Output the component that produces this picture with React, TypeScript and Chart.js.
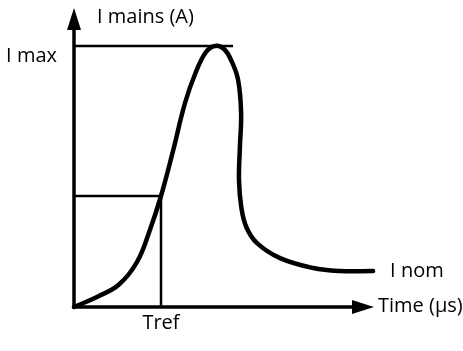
import React, { useEffect, useRef } from "react";
import { Chart, registerables } from "chart.js";

Chart.register(...registerables);

// Inrush current curve (time and current in arbitrary units, 0..100)
const timeValues = [0, 8, 15, 21, 25.3, 29, 33, 37, 40.5, 44, 47, 50, 52.5, 54.7, 55.7, 55.3, 55, 55.8, 57.5, 61, 68.7, 79.7, 88.7, 99.7];
const currentValues = [0, 3.5, 7.5, 15, 25.7, 37, 52, 68, 78, 85, 87, 86, 82, 75.7, 64.7, 53.3, 42.3, 33, 26.5, 21.3, 16.3, 13, 12, 12];

const tRef = 29;
const iRef = 37;
const iMax = 87;
const iMaxLineEnd = 53;
const iNom = 12;
const axisMax = 100;

const yAxisLabel = "I mains (A)";
const xAxisLabel = "Time (μs)";
const iMaxLabel = "I max";
const tRefLabel = "Tref";
const iNomLabel = "I nom";

const FONT = '20px "Open Sans", "Noto Sans", sans-serif';

const annotationPlugin = {
  id: "schematic",
  afterDatasetsDraw(chart: any) {
    const { ctx, scales } = chart;
    const xs = scales.x;
    const ys = scales.y;
    const x0 = xs.getPixelForValue(0);
    const y0 = ys.getPixelForValue(0);
    const xTip = xs.getPixelForValue(axisMax);
    const yTip = ys.getPixelForValue(axisMax) + 1;
    ctx.save();
    ctx.fillStyle = "#000";
    // y arrow head
    ctx.beginPath();
    ctx.moveTo(x0, yTip);
    ctx.lineTo(x0 - 7, yTip + 22);
    ctx.lineTo(x0 + 7, yTip + 22);
    ctx.closePath();
    ctx.fill();
    // x arrow head
    ctx.beginPath();
    ctx.moveTo(xTip, y0);
    ctx.lineTo(xTip - 22, y0 - 7);
    ctx.lineTo(xTip - 22, y0 + 7);
    ctx.closePath();
    ctx.fill();

    ctx.font = FONT;
    ctx.fillStyle = "#000";
    ctx.textBaseline = "middle";
    ctx.textAlign = "left";
    ctx.fillText(yAxisLabel, x0 + 23, yTip + 9);
    ctx.textAlign = "right";
    ctx.fillText(iMaxLabel, x0 - 17, ys.getPixelForValue(iMax) + 10);
    ctx.textAlign = "center";
    ctx.fillText(tRefLabel, xs.getPixelForValue(tRef), y0 + 16);
    ctx.textAlign = "left";
    ctx.fillText(iNomLabel, xs.getPixelForValue(timeValues[timeValues.length - 1]) + 17, ys.getPixelForValue(iNom) + 0);
    ctx.fillText(xAxisLabel, xTip + 4, y0 - 1);
    ctx.restore();
  },
};

export default function App() {
  const canvasRef = useRef<HTMLCanvasElement | null>(null);

  useEffect(() => {
    document.body.style.margin = "0";
    const canvas = canvasRef.current;
    if (!canvas) return;
    const curve = timeValues.map((t, i) => ({ x: t, y: currentValues[i] }));
    const line = (pts: { x: number; y: number }[], w: number) => ({
      data: pts,
      showLine: true,
      borderColor: "#000",
      borderWidth: w,
      pointRadius: 0,
      tension: 0,
      clip: false as any,
      borderCapStyle: "butt" as const,
    });
    const chart = new Chart(canvas, {
      type: "scatter",
      data: {
        datasets: [
          line([{ x: 0, y: iMax }, { x: iMaxLineEnd, y: iMax }], 2.5),
          line([{ x: 0, y: iRef }, { x: tRef, y: iRef }, { x: tRef, y: 0 }], 2.5),
          line([{ x: 0, y: 0 }, { x: 0, y: axisMax - 5 }], 3.5),
          line([{ x: 0, y: 0 }, { x: axisMax - 5, y: 0 }], 3.5),
          {
            ...line(curve, 4.5),
            tension: 0.4,
            borderCapStyle: "round" as const,
            borderJoinStyle: "round" as const,
          },
        ],
      },
      options: {
        animation: false,
        responsive: false,
        layout: { padding: { left: 74, right: 89, top: 7, bottom: 44 } },
        plugins: { legend: { display: false }, tooltip: { enabled: false } },
        scales: {
          x: { type: "linear", min: 0, max: axisMax, display: false },
          y: { type: "linear", min: 0, max: axisMax, display: false },
        },
      },
      plugins: [annotationPlugin],
    });
    return () => chart.destroy();
  }, []);

  return (
    <div style={{ width: 463, height: 351, background: "#fff" }}>
      <canvas ref={canvasRef} width={463} height={351} />
    </div>
  );
}
